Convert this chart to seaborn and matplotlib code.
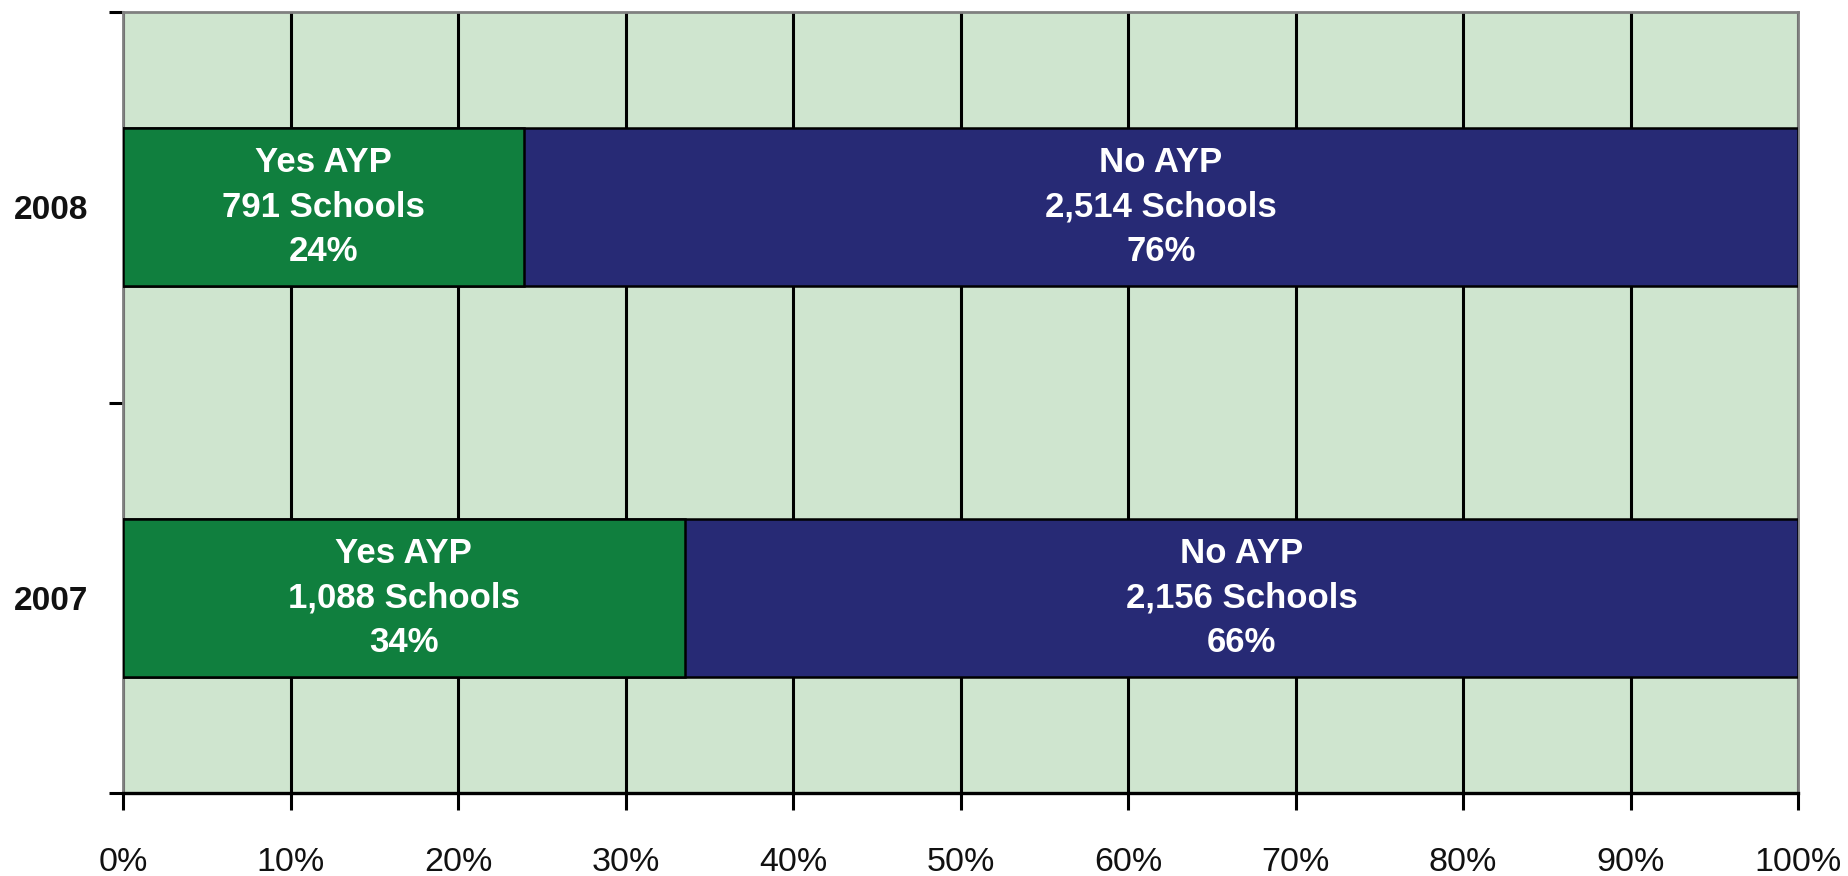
import matplotlib
matplotlib.use("Agg")
import matplotlib.pyplot as plt
import seaborn as sns
import pandas as pd
from matplotlib.ticker import FixedLocator

# ---- data ----
years = ["2008", "2007"]
yes_schools = [791, 1088]
no_schools = [2514, 2156]
yes_label = "Yes AYP"
no_label = "No AYP"
x_ticks = [0, 10, 20, 30, 40, 50, 60, 70, 80, 90, 100]

# ---- derived ----
totals = [y + n for y, n in zip(yes_schools, no_schools)]
yes_pct = [100 * y / t for y, t in zip(yes_schools, totals)]
no_pct = [100 * n / t for n, t in zip(no_schools, totals)]
df = pd.DataFrame({"year": years, "yes": yes_pct, "no": no_pct,
                   "stack": [a + b for a, b in zip(yes_pct, no_pct)]})

sns.set_style("white")
plt.rcParams["font.family"] = ["Liberation Sans", "DejaVu Sans"]

GREEN = "#107F3E"
BLUE = "#272A75"
BG = "#CFE5CF"

fig = plt.figure(figsize=(18.48, 8.76), dpi=100)
ax = fig.add_axes([123 / 1848, 1 - 793 / 876, (1798 - 123) / 1848, (793 - 12) / 876])
ax.set_facecolor(BG)

sns.barplot(data=df, x="stack", y="year", orient="h", color=BLUE, width=0.405,
            edgecolor="black", linewidth=1.8, saturation=1, ax=ax, zorder=3)
sns.barplot(data=df, x="yes", y="year", orient="h", color=GREEN, width=0.405,
            edgecolor="black", linewidth=1.8, saturation=1, ax=ax, zorder=4)

ax.set_xlim(0, 100)
ax.set_ylim(1.5, -0.5)
ax.set_xlabel("")
ax.set_ylabel("")

# grid
ax.set_xticks(x_ticks)
ax.set_xticklabels([f"{t}%" for t in x_ticks], fontsize=24.5, color="#111111")
ax.xaxis.grid(True, color="black", linewidth=2.2, zorder=1)
ax.set_axisbelow(True)
ax.tick_params(axis="x", direction="out", length=12, width=2.2, color="black", pad=27, bottom=True)

ax.tick_params(axis="y", which="major", length=0, pad=25)
for lbl in ax.get_yticklabels():
    lbl.set_fontsize(24)
    lbl.set_fontweight("bold")
    lbl.set_color("#111111")
ax.yaxis.set_minor_locator(FixedLocator([-0.5, 0.5, 1.5]))
ax.tick_params(axis="y", which="minor", direction="out", length=10, width=2.2, color="black", left=True)

for side in ["top", "right", "left"]:
    ax.spines[side].set_color("#808080")
    ax.spines[side].set_linewidth(2.0)
ax.spines["bottom"].set_color("black")
ax.spines["bottom"].set_linewidth(2.4)

# labels in bars
for i, yr in enumerate(years):
    ax.text(yes_pct[i] / 2, i, f"{yes_label}\n{yes_schools[i]:,} Schools\n{round(yes_pct[i])}%",
            ha="center", va="center", color="white", fontsize=25, fontweight="bold",
            linespacing=1.45, zorder=6)
    ax.text(yes_pct[i] + no_pct[i] / 2, i, f"{no_label}\n{no_schools[i]:,} Schools\n{round(no_pct[i])}%",
            ha="center", va="center", color="white", fontsize=25, fontweight="bold",
            linespacing=1.45, zorder=6)

fig.savefig("out.png", dpi=100, facecolor="white")
